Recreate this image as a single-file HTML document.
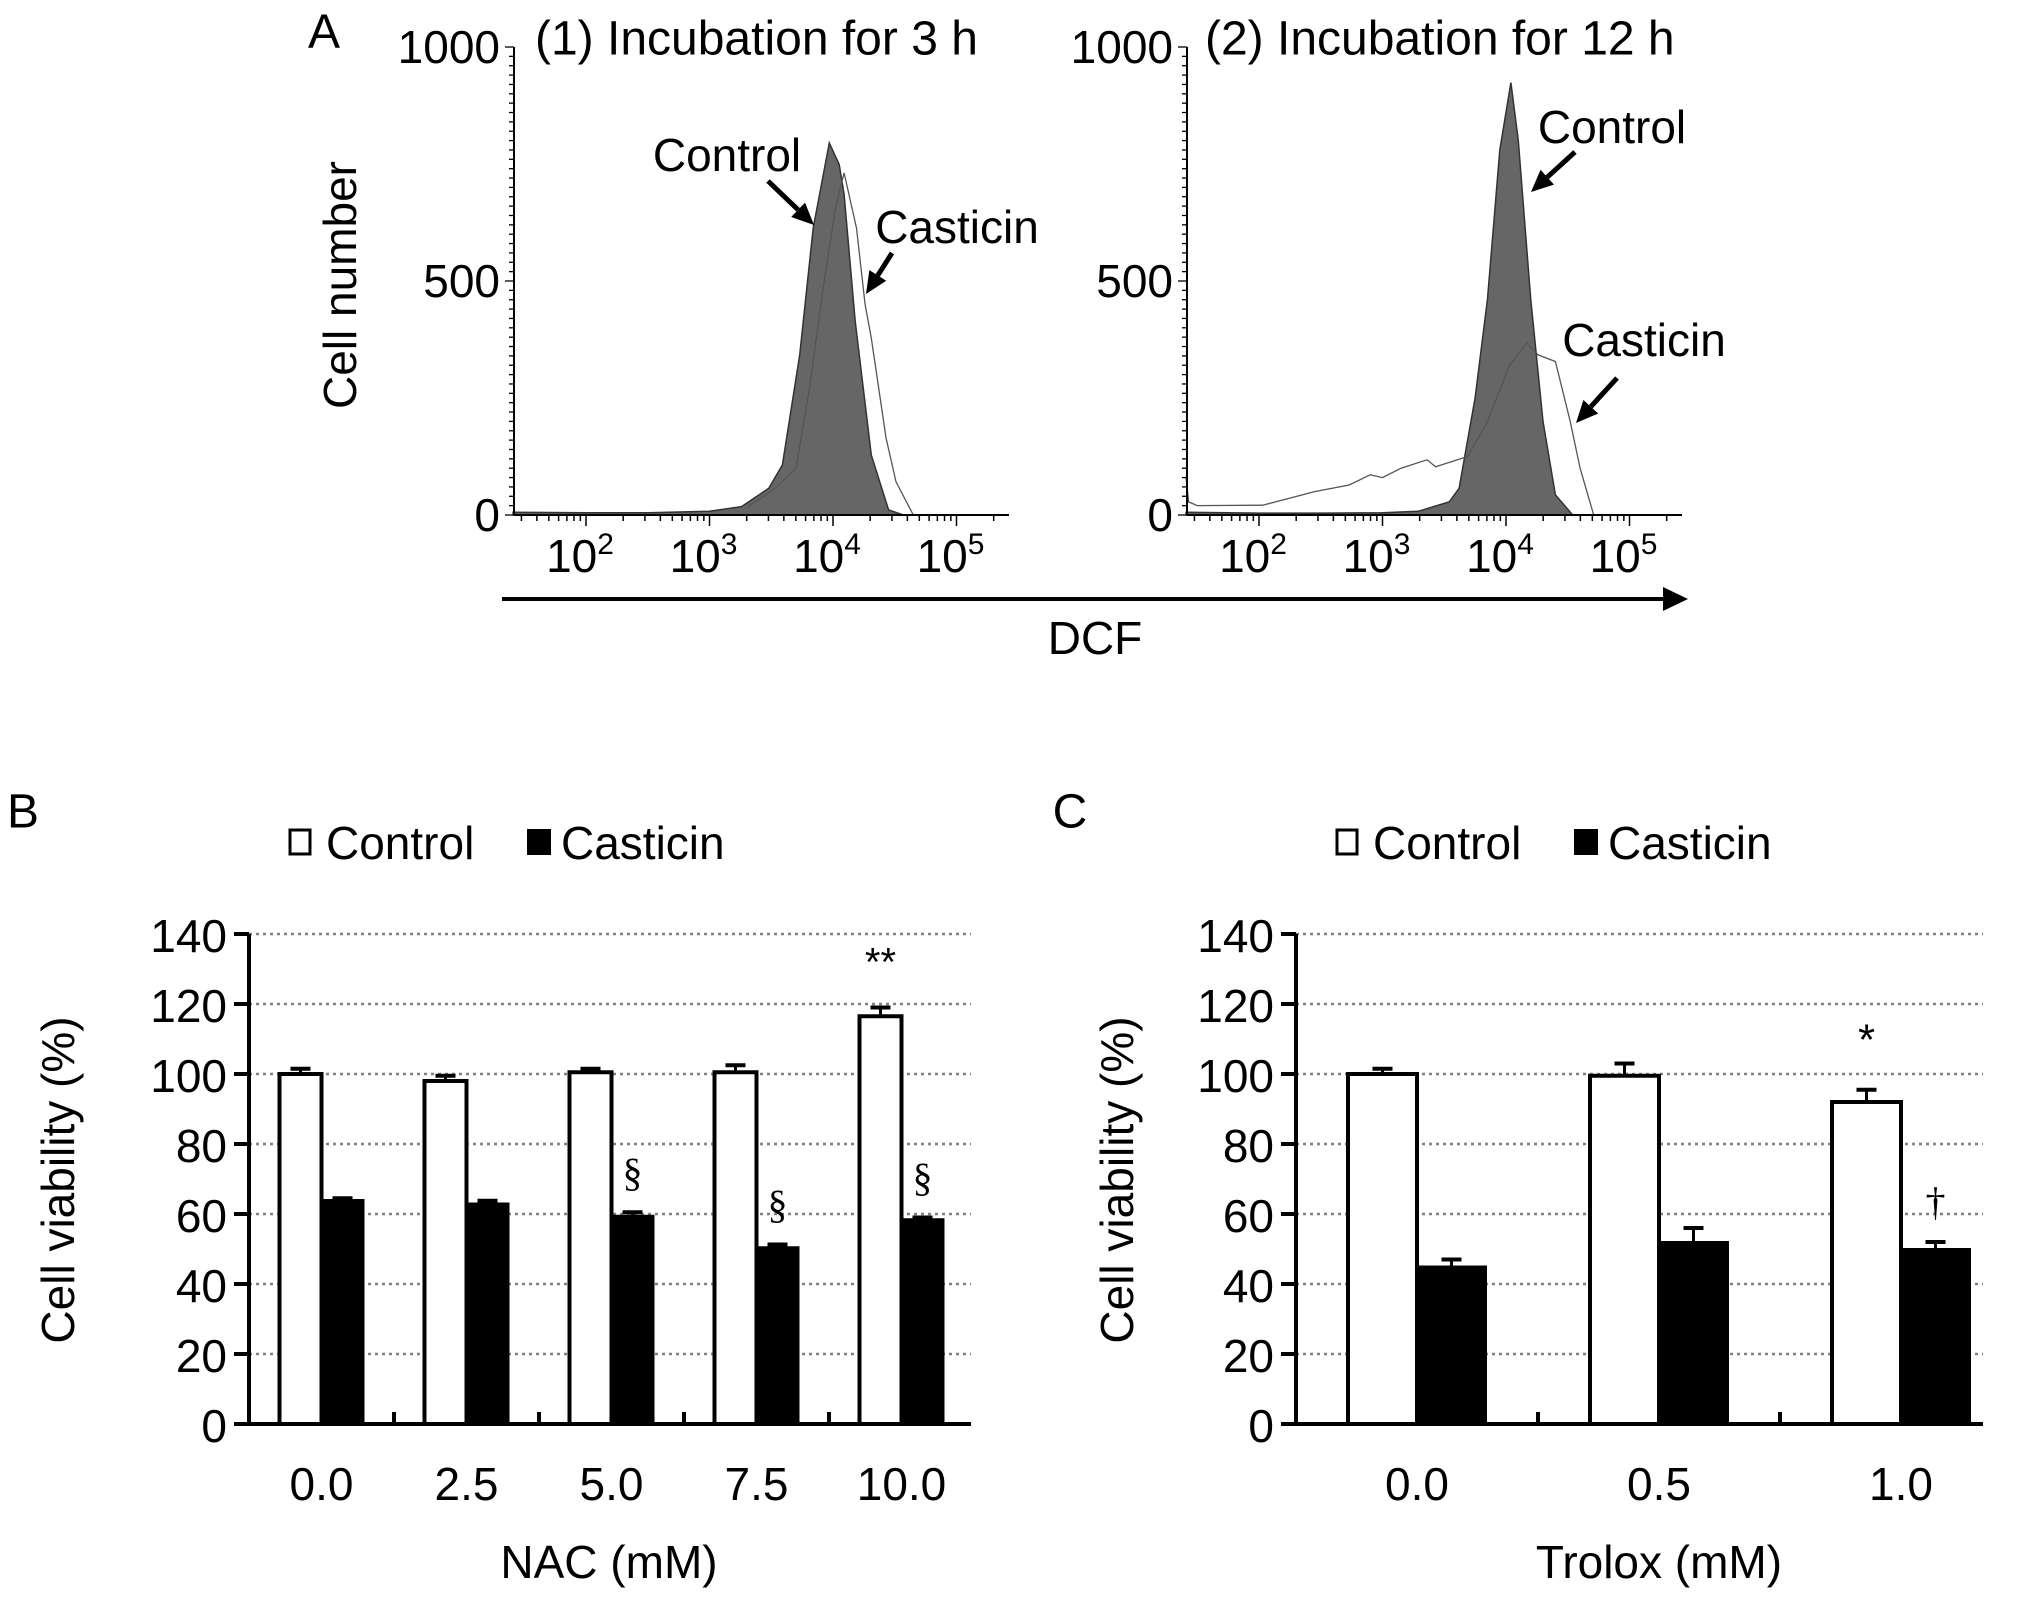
<!DOCTYPE html>
<html><head><meta charset="utf-8"><style>
html,body{margin:0;padding:0;background:#fff}
svg{display:block;font-family:"Liberation Sans",Arial,sans-serif}
</style></head><body>
<svg id="fig" width="2031" height="1600" viewBox="0 0 2031 1600"></svg>
<script>
// ---------- Panel A data (log10 DCF, cell count) ----------
const h1ControlLog=[1.41,2.0,2.5,3.0,3.26,3.48,3.59,3.73,3.84,3.97,4.05,4.09,4.18,4.31,4.45,4.57];
const h1ControlCnt=[6,5,5,8,18,57,107,342,613,795,749,685,414,128,11,0];
const h1CastLog=[3.3,3.53,3.7,3.81,3.92,4.02,4.09,4.19,4.26,4.31,4.43,4.51,4.65];
const h1CastCnt=[15,57,100,271,485,656,731,613,450,378,164,71,0];
const h2ControlLog=[1.41,2.0,2.5,3.0,3.29,3.54,3.62,3.75,3.85,3.95,4.04,4.1,4.2,4.3,4.4,4.54];
const h2ControlCnt=[6,4,4,5,8,28,57,250,462,780,924,800,462,200,43,0];
const h2CastLog=[1.41,1.43,1.5,2.03,2.45,2.73,2.9,3.0,3.15,3.36,3.43,3.69,3.85,4.03,4.17,4.26,4.4,4.52,4.6,4.71];
const h2CastCnt=[80,28,20,21,50,64,86,80,100,118,103,125,200,321,367,342,328,200,100,0];
const histTicks=[0,500,1000];
const decades=[2,3,4,5];
// ---------- Panel B data ----------
const nacCats=["0.0","2.5","5.0","7.5","10.0"];
const nacControl=[100,98,100.5,100.5,116.5];
const nacControlErr=[1.5,1.5,1,2,2.5];
const nacCast=[64,63,59.5,50.5,58.5];
const nacCastErr=[0.5,0.8,1,0.8,0.5];
const nacMarks=["","","§","§","§"];
// ---------- Panel C data ----------
const trxCats=["0.0","0.5","1.0"];
const trxControl=[100,99.5,92];
const trxControlErr=[1.5,3.5,3.5];
const trxCast=[45,52,50];
const trxCastErr=[2,4,2];
const yTicks=[0,20,40,60,80,100,120,140];

const NS="http://www.w3.org/2000/svg";
const svg=document.getElementById('fig');
function mk(tag,attrs,parent){const e=document.createElementNS(NS,tag);for(const k in attrs)e.setAttribute(k,attrs[k]);(parent||svg).appendChild(e);return e;}
function txt(s,x,y,size,anchor,parent){const t=mk('text',{x:x,y:y,'font-size':size,'text-anchor':anchor||'middle','dominant-baseline':'central',fill:'#000'},parent);t.textContent=s;return t;}

// ---------- Histogram panels ----------
function histPanel(ax,name,title,titleX,cLog,cCnt,sLog,sCnt){
  const g=mk('g',{});
  
  
  const y0=515,yTop=47,xEnd=ax+495,dec=123.5,x2=ax+72;
  const X=l=>x2+(l-2)*dec, Y=c=>y0-(c/1000)*(y0-yTop);
  let d='M'+X(cLog[0])+','+y0;
  cLog.forEach((l,i)=>{d+=' L'+X(l).toFixed(1)+','+Y(cCnt[i]).toFixed(1);});
  d+=' L'+X(cLog[cLog.length-1])+','+y0+' Z';
  const pc=mk('path',{d:d,fill:'#666',stroke:'#333','stroke-width':1.5},g);
  
  
  let d2='';
  sLog.forEach((l,i)=>{d2+=(i?' L':'M')+X(l).toFixed(1)+','+Y(sCnt[i]).toFixed(1);});
  const ps=mk('path',{d:d2,fill:'none',stroke:'#555','stroke-width':1.3},g);
  
  
  mk('line',{x1:ax,y1:yTop,x2:ax,y2:y0,stroke:'#000','stroke-width':2},g);
  mk('line',{x1:ax,y1:y0,x2:xEnd,y2:y0,stroke:'#000','stroke-width':2},g);
  for(let v=0;v<=1000;v+=20){const major=v%500===0;mk('line',{x1:ax-(major?9:5),y1:Y(v),x2:ax,y2:Y(v),stroke:'#000','stroke-width':1.3},g);}
  histTicks.forEach(v=>{const t=txt(String(v),ax-14,Y(v),46,'end',g);});
  for(let e=1;e<=5;e++){for(let m=1;m<10;m++){const l=e+Math.log10(m);const x=X(l);if(x<ax+4||x>xEnd)continue;mk('line',{x1:x,y1:y0,x2:x,y2:y0+(m===1?11:6),stroke:'#000','stroke-width':1.5},g);}}
  decades.forEach(e=>{const t=mk('text',{x:X(e)-6,y:y0+57,'font-size':46,'text-anchor':'middle',fill:'#000'},g);t.textContent='10';const s=mk('tspan',{'font-size':30,dy:-18},t);s.textContent=String(e);});
  const tt=txt(title,titleX,39,48,'start',g);
  
  
  return g;
}
function arrow(x1,y1,x2,y2,name){
  const g=mk('g',{});
  
  
  const a=Math.atan2(y2-y1,x2-x1),L=22,W=10;
  const bx=x2-L*Math.cos(a),by=y2-L*Math.sin(a);
  mk('line',{x1:x1,y1:y1,x2:bx,y2:by,stroke:'#000','stroke-width':5},g);
  mk('polygon',{points:`${x2},${y2} ${bx+W*Math.sin(a)},${by-W*Math.cos(a)} ${bx-W*Math.sin(a)},${by+W*Math.cos(a)}`,fill:'#000'},g);
}
histPanel(514,'histogram-3h','(1) Incubation for 3 h',535,h1ControlLog,h1ControlCnt,h1CastLog,h1CastCnt);
histPanel(1187,'histogram-12h','(2) Incubation for 12 h',1205,h2ControlLog,h2ControlCnt,h2CastLog,h2CastCnt);
let t;
t=txt('A',324,32,48,'middle');
t=txt('Cell number',340,285,46,'middle');t.setAttribute('transform','rotate(-90 340 285)');
t=txt('Control',727,155,46,'middle');
t=txt('Casticin',957,227,46,'middle');
t=txt('Control',1612,127,46,'middle');
t=txt('Casticin',1644,340,46,'middle');
arrow(768,181,814,225,'control-arrow-3h');
arrow(892,253,866,294,'casticin-arrow-3h');
arrow(1575,152,1531,192,'control-arrow-12h');
arrow(1617,378,1576,423,'casticin-arrow-12h');
const dcf=mk('g',{});


mk('line',{x1:502,y1:599,x2:1665,y2:599,stroke:'#000','stroke-width':4},dcf);
mk('polygon',{points:'1688,599 1663,587 1663,611',fill:'#000'},dcf);
t=txt('DCF',1095,638,46,'middle');

// ---------- Bar panels ----------
function barPanel(o){
  const g=mk('g',{});
  
  
  const y0=1424,ppu=3.5,Y=v=>y0-v*ppu;
  const n=o.cats.length,gw=o.gw;
  const C=i=>o.ax+gw*(i+0.5);
  yTicks.forEach(v=>{
    if(v>0) mk('line',{x1:o.ax,y1:Y(v),x2:o.xEnd,y2:Y(v),stroke:'#808080','stroke-width':2.5,'stroke-dasharray':'3 4'},g);
    mk('line',{x1:o.ax-15,y1:Y(v),x2:o.ax,y2:Y(v),stroke:'#000','stroke-width':4},g);
    const tl=txt(String(v),o.ax-22,Y(v)+2,46,'end',g);
    
    
  });
  o.cats.forEach((c,i)=>{
    const cx=C(i);
    const rc=mk('rect',{x:cx-o.bw,y:Y(o.ctrl[i]),width:o.bw,height:o.ctrl[i]*ppu,fill:'#fff',stroke:'#000','stroke-width':4},g);
    
    
    const rs=mk('rect',{x:cx,y:Y(o.cast[i]),width:o.bw,height:o.cast[i]*ppu,fill:'#000',stroke:'#000','stroke-width':2},g);
    
    
    [[cx-o.bw/2,o.ctrl[i],o.ctrlErr[i]],[cx+o.bw/2,o.cast[i],o.castErr[i]]].forEach(([ex,v,e])=>{
      mk('line',{x1:ex,y1:Y(v),x2:ex,y2:Y(v+e),stroke:'#000','stroke-width':3},g);
      mk('line',{x1:ex-10,y1:Y(v+e),x2:ex+10,y2:Y(v+e),stroke:'#000','stroke-width':4},g);
    });
    const xl=txt(c,cx,1484,46,'middle',g);
    
    
    if(o.ctrlMark[i]){const m=txt(o.ctrlMark[i],cx-o.bw/2,Y(o.ctrl[i]+o.ctrlErr[i])-o.ctrlMarkOff,o.ctrlMarkSize,'middle',g);}
    if(o.castMark[i]){const m=txt(o.castMark[i],cx+o.bw/2,Y(o.cast[i]+o.castErr[i])-40,40,'middle',g);m.setAttribute('font-family','"Liberation Serif",serif');}
  });
  mk('line',{x1:o.ax,y1:Y(140),x2:o.ax,y2:y0,stroke:'#000','stroke-width':4},g);
  mk('line',{x1:o.ax-2,y1:y0,x2:o.xEnd,y2:y0,stroke:'#000','stroke-width':4},g);
  for(let i=1;i<=n;i++){const x=o.ax+gw*i;if(x>o.xEnd+1)continue;mk('line',{x1:x,y1:y0-12,x2:x,y2:y0,stroke:'#000','stroke-width':4},g);}
  const yt=txt('Cell viability (%)',o.ytX,1180,46,'middle',g);
  yt.setAttribute('transform',`rotate(-90 ${o.ytX} 1180)`);
  
  
  const xt=txt(o.xTitle,o.xtX,1562,46,'middle',g);
  
  
  const pl=txt(o.letter,o.letterX,812,48,'middle',g);
  
  
  const lg=mk('g',{},g);
  
  
  mk('rect',{x:o.lx,y:830,width:20,height:24,fill:'#fff',stroke:'#000','stroke-width':3},lg);
  txt('Control',o.lx+36,843,46,'start',lg);
  mk('rect',{x:o.lx+237,y:829,width:24,height:26,fill:'#000'},lg);
  txt('Casticin',o.lx+271,843,46,'start',lg);
}
barPanel({name:'nac-bar-chart',ax:249,xEnd:971,gw:145,bw:42,cats:nacCats,ctrl:nacControl,ctrlErr:nacControlErr,cast:nacCast,castErr:nacCastErr,
  ctrlMark:["","","","","**"],ctrlMarkOff:45,ctrlMarkSize:40,castMark:nacMarks,ytX:58,xTitle:'NAC (mM)',xtX:609,letter:'B',letterX:23,lx:290});
barPanel({name:'trolox-bar-chart',ax:1296,xEnd:1983,gw:242,bw:69,cats:trxCats,ctrl:trxControl,ctrlErr:trxControlErr,cast:trxCast,castErr:trxCastErr,
  ctrlMark:["","","*"],ctrlMarkOff:50,ctrlMarkSize:44,castMark:["","","†"],ytX:1117,xTitle:'Trolox (mM)',xtX:1659,letter:'C',letterX:1070,lx:1337});
</script>
</body></html>
